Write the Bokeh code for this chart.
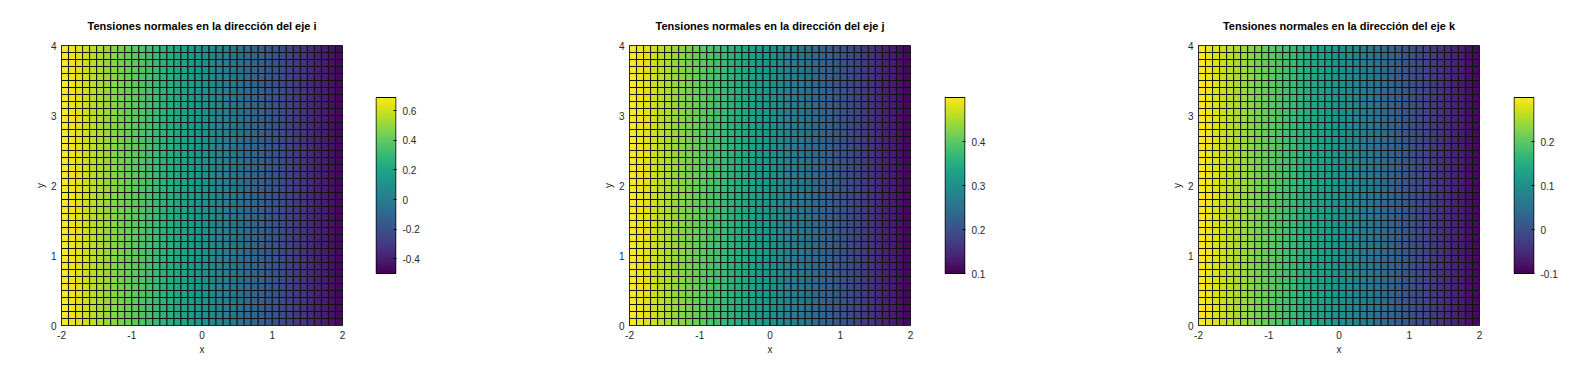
import numpy as np
from bokeh.plotting import figure
from bokeh.layouts import row
from bokeh.models import LinearColorMapper, FixedTicker, Range1d, ColumnDataSource
from bokeh.palettes import Viridis256
from bokeh.embed import file_html
from bokeh.resources import INLINE

# grid nodes (x from -2 to 2, y from 0 to 4, step 0.1)
x_nodes = [round(-2 + 0.1 * i, 2) for i in range(41)]
y_nodes = [round(0.1 * i, 2) for i in range(41)]

# values along x (constant along y)
sigma_i = [0.690, 0.660, 0.631, 0.601, 0.571, 0.541, 0.512, 0.482, 0.452, 0.422,
           0.393, 0.363, 0.333, 0.303, 0.274, 0.244, 0.214, 0.184, 0.155, 0.125,
           0.095, 0.065, 0.036, 0.006, -0.024, -0.054, -0.083, -0.113, -0.143, -0.173,
           -0.202, -0.232, -0.262, -0.292, -0.321, -0.351, -0.381, -0.411, -0.440, -0.470,
           -0.500]
sigma_j = [0.50, 0.49, 0.48, 0.47, 0.46, 0.45, 0.44, 0.43, 0.42, 0.41,
           0.40, 0.39, 0.38, 0.37, 0.36, 0.35, 0.34, 0.33, 0.32, 0.31,
           0.30, 0.29, 0.28, 0.27, 0.26, 0.25, 0.24, 0.23, 0.22, 0.21,
           0.20, 0.19, 0.18, 0.17, 0.16, 0.15, 0.14, 0.13, 0.12, 0.11,
           0.10]
sigma_k = [0.30, 0.29, 0.28, 0.27, 0.26, 0.25, 0.24, 0.23, 0.22, 0.21,
           0.20, 0.19, 0.18, 0.17, 0.16, 0.15, 0.14, 0.13, 0.12, 0.11,
           0.10, 0.09, 0.08, 0.07, 0.06, 0.05, 0.04, 0.03, 0.02, 0.01,
           0.00, -0.01, -0.02, -0.03, -0.04, -0.05, -0.06, -0.07, -0.08, -0.09,
           -0.10]

titles = ["Tensiones normales en la dirección del eje i",
          "Tensiones normales en la dirección del eje j",
          "Tensiones normales en la dirección del eje k"]
cb_ticks = [[-0.4, -0.2, 0, 0.2, 0.4, 0.6],
            [0.1, 0.2, 0.3, 0.4],
            [-0.1, 0, 0.1, 0.2]]
x_ticks = [-2, -1, 0, 1, 2]
y_ticks = [0, 1, 2, 3, 4]

FONT = "Liberation Sans"
TXT = "#262626"
H = 376
FRAME_TOP = 45
FRAME_H = 280
CB_TOP = 97
CB_H = 176

main_borders = [(61, 33), (173, 34), (173, 34)]
cb_right = [60, 60, 48]


def style_axis(ax):
    ax.major_label_text_font = FONT
    ax.major_label_text_font_size = "10px"
    ax.major_label_text_color = TXT
    ax.axis_label_text_font = FONT
    ax.axis_label_text_font_size = "10px"
    ax.axis_label_text_font_style = "normal"
    ax.axis_label_text_color = TXT
    ax.minor_tick_line_color = None
    ax.major_tick_out = 0
    ax.major_tick_in = 3
    ax.major_tick_line_color = TXT
    ax.axis_line_color = TXT


def fmt(v):
    return "0" if v == 0 else ("%g" % v)


figs = []
for k, vals in enumerate([sigma_i, sigma_j, sigma_k]):
    low, high = min(vals), max(vals)
    mapper = LinearColorMapper(palette=Viridis256, low=low, high=high)

    left, right, bottom, top, v = [], [], [], [], []
    for a in range(40):
        for b in range(40):
            left.append(x_nodes[a]); right.append(x_nodes[a + 1])
            bottom.append(y_nodes[b]); top.append(y_nodes[b + 1])
            v.append(vals[a])
    src = ColumnDataSource(dict(left=left, right=right, bottom=bottom, top=top, v=v))

    bl, br = main_borders[k]
    p = figure(frame_width=281, frame_height=FRAME_H,
               x_range=Range1d(-2, 2), y_range=Range1d(0, 4),
               min_border_left=bl, min_border_right=br,
               min_border_top=FRAME_TOP, min_border_bottom=H - FRAME_TOP - FRAME_H,
               output_backend="svg", toolbar_location=None, title=titles[k])
    p.quad(left="left", right="right", bottom="bottom", top="top", source=src,
           fill_color={"field": "v", "transform": mapper},
           line_color="#111111", line_width=1)
    p.grid.visible = False
    p.outline_line_color = TXT
    p.title.text_font = FONT
    p.title.text_font_size = "11px"
    p.title.text_font_style = "bold"
    p.title.text_color = "black"
    p.title.align = "center"
    p.title.standoff = 27
    p.xaxis.ticker = FixedTicker(ticks=x_ticks)
    p.yaxis.ticker = FixedTicker(ticks=y_ticks)
    p.xaxis.major_label_overrides = {t: str(t) for t in x_ticks}
    p.yaxis.major_label_overrides = {t: str(t) for t in y_ticks}
    p.xaxis.axis_label = "x"
    p.yaxis.axis_label = "y"
    for ax in [p.xaxis[0], p.yaxis[0]]:
        style_axis(ax)
        ax.major_label_standoff = 5
        ax.axis_label_standoff = 2

    # colourbar: same frame as main plot, bar occupies the middle part
    span = high - low
    upp = span / CB_H  # units per pixel
    y_lo = low - (FRAME_TOP + FRAME_H - (CB_TOP + CB_H)) * upp
    y_hi = high + (CB_TOP - FRAME_TOP) * upp
    c = figure(frame_width=21, frame_height=FRAME_H,
               x_range=Range1d(-0.025, 1.025), y_range=Range1d(y_lo, y_hi),
               min_border_left=0, min_border_right=cb_right[k],
               min_border_top=FRAME_TOP, min_border_bottom=H - FRAME_TOP - FRAME_H,
               x_axis_location=None, y_axis_location="right",
               output_backend="svg", toolbar_location=None)
    grad = np.linspace(low, high, 256).reshape(256, 1)
    c.image(image=[grad], x=0, y=low, dw=1, dh=span, color_mapper=mapper)
    c.quad(left=[0], right=[1], bottom=[low], top=[high],
           fill_color=None, line_color="black", line_width=1)
    c.grid.visible = False
    c.outline_line_color = None
    c.yaxis.ticker = FixedTicker(ticks=cb_ticks[k])
    c.yaxis.major_label_overrides = {t: fmt(t) for t in cb_ticks[k]}
    style_axis(c.yaxis[0])
    c.yaxis.major_label_standoff = 6
    c.yaxis.axis_line_color = None
    c.yaxis.major_tick_line_color = "black"

    figs += [p, c]

layout = row(*figs, spacing=0)
open("out.html", "w").write(file_html(layout, INLINE))
